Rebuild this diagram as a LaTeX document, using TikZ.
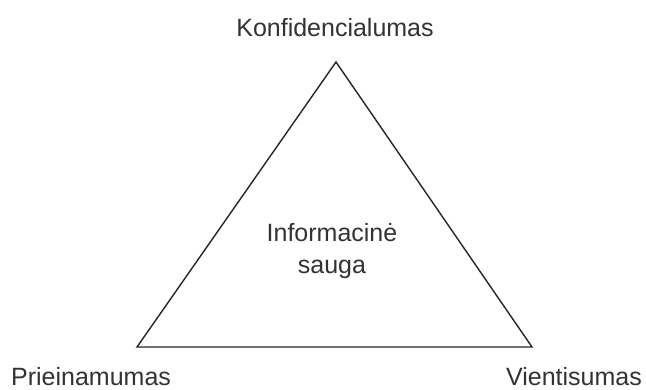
\documentclass[tikz,border=0pt]{standalone}
\usepackage{fontspec}
\setmainfont{Liberation Sans}
\begin{document}
\begin{tikzpicture}[x=1pt,y=-1pt,
  edge/.style={draw=black!85,line width=1.4pt,line join=miter},
  lbl/.style={font=\fontsize{25}{32}\selectfont,text=black!80,inner sep=0pt,align=center}]
  \useasboundingbox[fill=white] (0,0) rectangle (646,389);
  % corners of the triangle
  \coordinate (top) at (336,62);
  \coordinate (bl) at (137,347);
  \coordinate (br) at (532,347);
  \draw[edge] (top) -- (bl) -- (br) -- cycle;
  % labels
  \node[lbl,anchor=base] (k) at (335,36) {Konfidencialumas};
  \node[lbl,anchor=base west] (p) at (11,385) {Prieinamumas};
  \node[lbl,anchor=base east] (v) at (642,385) {Vientisumas};
  % the base anchor of a two-line node sits on its last line
  \node[lbl,anchor=base] (c) at (332,273) {Informacinė\\sauga};
\end{tikzpicture}
\end{document}
